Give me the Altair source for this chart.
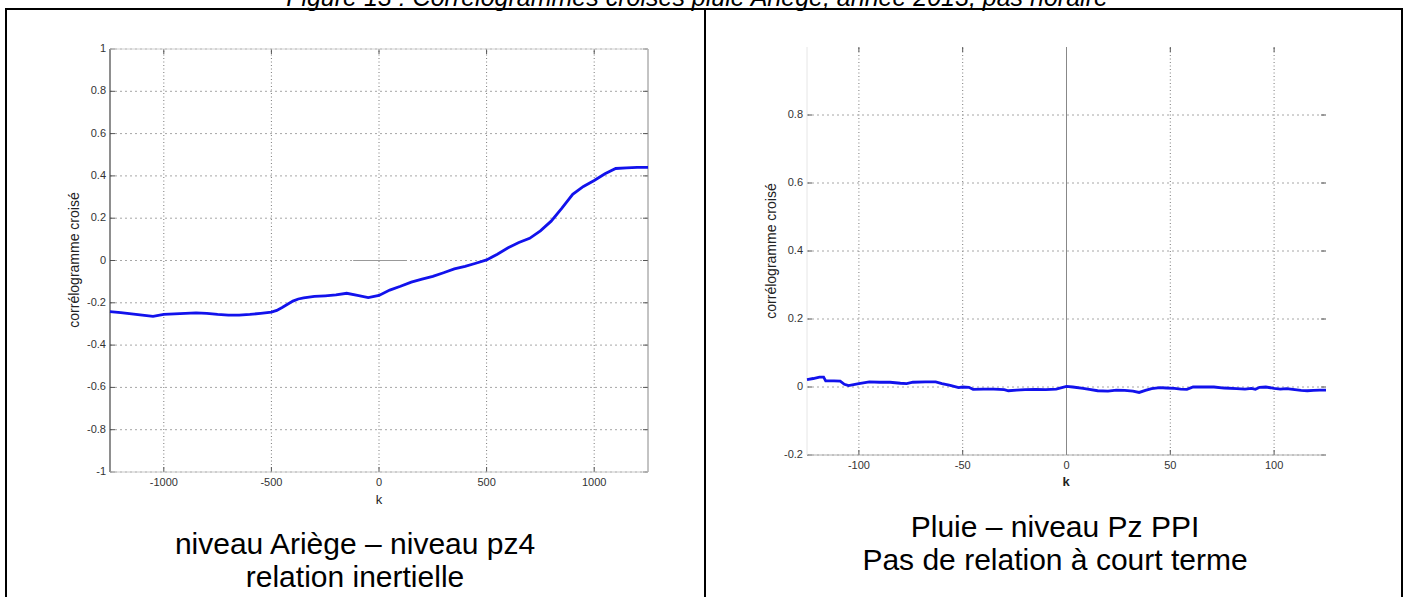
import altair as alt
import pandas as pd

W, H = 1407, 597
FONT = "Liberation Sans, Arial, sans-serif"

# ---------------- data ----------------
left_k = [-1250, -1200, -1150, -1100, -1050, -1000, -950, -900, -850, -800, -750, -700,
          -650, -600, -550, -500, -475, -450, -425, -400, -375, -350, -300, -250, -200,
          -150, -100, -50, 0, 50, 100, 150, 200, 250, 300, 350, 400, 450, 500, 550, 600,
          650, 700, 750, 800, 850, 900, 950, 1000, 1050, 1100, 1150, 1200, 1250]
left_r = [-0.242, -0.246, -0.252, -0.258, -0.264, -0.255, -0.252, -0.250, -0.248, -0.250,
          -0.255, -0.258, -0.258, -0.255, -0.250, -0.244, -0.236, -0.222, -0.207, -0.192,
          -0.182, -0.177, -0.170, -0.167, -0.163, -0.155, -0.165, -0.175, -0.165, -0.140,
          -0.122, -0.102, -0.088, -0.075, -0.058, -0.040, -0.028, -0.013, 0.003, 0.030,
          0.060, 0.085, 0.105, 0.140, 0.186, 0.248, 0.313, 0.350, 0.378, 0.410, 0.435,
          0.438, 0.440, 0.440]

right_k = [-125, -122, -119, -117, -116, -112, -109, -107, -105, -100, -95, -90, -85, -80,
           -77, -74, -68, -63, -60, -56, -52, -50, -47, -45, -40, -35, -30, -28, -24, -20,
           -15, -10, -5, 0, 3, 8, 11, 15, 20, 24, 28, 32, 35, 38, 41, 45, 48, 52, 55, 58,
           61, 65, 71, 76, 82, 86, 89, 91, 93, 96, 100, 103, 106, 110, 113, 116, 119, 122, 125]
right_r = [0.022, 0.025, 0.029, 0.029, 0.018, 0.018, 0.017, 0.008, 0.004, 0.010, 0.015,
           0.014, 0.014, 0.011, 0.010, 0.014, 0.015, 0.015, 0.010, 0.005, -0.002, 0.000,
           -0.001, -0.007, -0.006, -0.006, -0.008, -0.011, -0.009, -0.008, -0.007, -0.008,
           -0.006, 0.002, 0.000, -0.004, -0.007, -0.011, -0.012, -0.009, -0.010, -0.012,
           -0.016, -0.010, -0.005, -0.002, -0.003, -0.004, -0.006, -0.007, 0.000, 0.000,
           0.000, -0.003, -0.005, -0.006, -0.004, -0.007, -0.001, 0.000, -0.004, -0.006,
           -0.005, -0.008, -0.010, -0.011, -0.010, -0.009, -0.009]

left_xticks = [-1000, -500, 0, 500, 1000]
left_yticks = [-1, -0.8, -0.6, -0.4, -0.2, 0, 0.2, 0.4, 0.6, 0.8, 1]
right_xticks = [-100, -50, 0, 50, 100]
right_yticks = [-0.2, 0, 0.2, 0.4, 0.6, 0.8]
left_xdomain = [-1250, 1250]
left_ydomain = [-1, 1]
right_xdomain = [-125, 125]
right_ydomain = [-0.2, 1.0]

title_text = "Figure 13 : Corrélogrammes croisés pluie Ariège, année 2013, pas horaire"
left_caption = ["niveau Ariège – niveau pz4", "relation inertielle"]
right_caption = ["Pluie – niveau Pz PPI", "Pas de relation à court terme"]
y_title = "corrélogramme croisé"
x_title = "k"

LINE_COLOR = "#1212ec"
VGRID_COLOR = "#7a7a7a"
HGRID_COLOR = "#a6a6a6"
TICK_COLOR = "#555555"
LABEL_COLOR = "#333333"


def seg(xs, ys, x0, x1, y0, y1, color, width=1.0):
    df = pd.DataFrame({"x0": [x0], "x1": [x1], "y0": [y0], "y1": [y1]})
    return alt.Chart(df).mark_rule(color=color, strokeWidth=width).encode(
        x=alt.X("x0:Q", scale=xs, axis=None), x2="x1:Q",
        y=alt.Y("y0:Q", scale=ys, axis=None), y2="y1:Q")


def panel(k, r, xt, yt, xdom, ydom, xrange, yrange, box, titles):
    xs = alt.Scale(domain=xdom, range=xrange, nice=False, zero=False)
    ys = alt.Scale(domain=ydom, range=yrange, nice=False, zero=False)
    vgrid = pd.DataFrame({"k": xt, "y0": [ydom[0]] * len(xt), "y1": [ydom[1]] * len(xt),
                          "lab": [str(v) for v in xt]})
    hgrid = pd.DataFrame({"y": yt, "x0": [xdom[0]] * len(yt), "x1": [xdom[1]] * len(yt),
                          "lab": [str(v) for v in yt]})
    X = lambda f: alt.X(f, scale=xs, axis=None)
    Y = lambda f: alt.Y(f, scale=ys, axis=None)
    layers = []
    # dotted grid
    layers.append(alt.Chart(vgrid).mark_rule(color=VGRID_COLOR, strokeDash=[1, 2.5], strokeWidth=1).encode(
        x=X("k:Q"), y=Y("y0:Q"), y2="y1:Q"))
    layers.append(alt.Chart(hgrid).mark_rule(color=HGRID_COLOR, strokeDash=[2, 3], strokeWidth=1).encode(
        y=Y("y:Q"), x=X("x0:Q"), x2="x1:Q"))
    # inward ticks on the four sides
    layers.append(alt.Chart(vgrid).mark_rule(color=TICK_COLOR, y2Offset=-5).encode(
        x=X("k:Q"), y=Y("y0:Q"), y2="y0:Q"))
    layers.append(alt.Chart(vgrid).mark_rule(color=TICK_COLOR, y2Offset=5).encode(
        x=X("k:Q"), y=Y("y1:Q"), y2="y1:Q"))
    layers.append(alt.Chart(hgrid).mark_rule(color=TICK_COLOR, x2Offset=5).encode(
        y=Y("y:Q"), x=X("x0:Q"), x2="x0:Q"))
    layers.append(alt.Chart(hgrid).mark_rule(color=TICK_COLOR, x2Offset=-5).encode(
        y=Y("y:Q"), x=X("x1:Q"), x2="x1:Q"))
    # box / extra lines
    for (x0, x1, y0, y1, c, w) in box:
        layers.append(seg(xs, ys, x0, x1, y0, y1, c, w))
    # tick labels
    layers.append(alt.Chart(vgrid).mark_text(font=FONT, fontSize=11, color=LABEL_COLOR,
                                             align="center", baseline="middle", dy=11).encode(
        x=X("k:Q"), y=Y("y0:Q"), text="lab:N"))
    layers.append(alt.Chart(hgrid).mark_text(font=FONT, fontSize=11, color=LABEL_COLOR,
                                             align="right", baseline="middle", dx=-4).encode(
        y=Y("y:Q"), x=X("x0:Q"), text="lab:N"))
    # axis titles
    (kx, ky, kw), (tx, ty) = titles
    tdf = pd.DataFrame({"t": [x_title]})
    layers.append(alt.Chart(tdf).mark_text(font=FONT, fontSize=13, fontWeight=kw, color="#222222",
                                           align="center", baseline="middle").encode(
        text="t:N", x=alt.value(kx), y=alt.value(ky)))
    ydf = pd.DataFrame({"t": [y_title]})
    layers.append(alt.Chart(ydf).mark_text(font=FONT, fontSize=14, color="#222222", angle=270,
                                           align="center", baseline="middle").encode(
        text="t:N", x=alt.value(tx), y=alt.value(ty)))
    # data line
    df = pd.DataFrame({"k": k, "r": r})
    layers.append(alt.Chart(df).mark_line(color=LINE_COLOR, strokeWidth=2.8).encode(
        x=X("k:Q"), y=Y("r:Q")))
    return alt.layer(*layers)


left_box = [
    (-1250, -1250, -1, 1, "#444444", 1.2),
    (1250, 1250, -1, 1, "#888888", 1.0),
    (-1250, 1250, 1, 1, "#d0d0d0", 1.0),
    (-1250, 1250, -1, -1, "#c8c8c8", 1.0),
    (-120, 130, 0, 0, "#999999", 1.0),
]
right_box = [
    (-125, 125, -0.2, -0.2, "#b0b0b0", 1.0),
    (0, 0, -0.2, 1.0, "#888888", 1.0),
    (-125, -125, -0.2, 1.0, "#e6e6e6", 1.0),
]

left = panel(left_k, left_r, left_xticks, left_yticks, left_xdomain, left_ydomain,
             [110, 648], [472, 49], left_box, ((379, 500, "normal"), (75, 260)))
right = panel(right_k, right_r, right_xticks, right_yticks, right_xdomain, right_ydomain,
              [807, 1326], [455, 47], right_box, ((1066, 482, "bold"), (772, 251)))

# ---------------- decorations (page frame, title, captions) ----------------
one = pd.DataFrame({"a": [0]})
deco = []
deco.append(alt.Chart(one).mark_rule(color="black", strokeWidth=2).encode(
    x=alt.value(5), x2=alt.value(1403), y=alt.value(9)))
for xv in (6, 705, 1402):
    deco.append(alt.Chart(one).mark_rule(color="black", strokeWidth=2).encode(
        x=alt.value(xv), y=alt.value(9), y2=alt.value(H)))
deco.append(alt.Chart(pd.DataFrame({"t": [title_text]})).mark_text(
    font=FONT, fontSize=25, fontStyle="italic", align="center", baseline="alphabetic",
    color="black").encode(text="t:N", x=alt.value(697), y=alt.value(6)))
for i, t in enumerate(left_caption):
    deco.append(alt.Chart(pd.DataFrame({"t": [t]})).mark_text(
        font=FONT, fontSize=30, align="center", baseline="middle", color="black").encode(
        text="t:N", x=alt.value(355), y=alt.value(545 + 33 * i)))
for i, t in enumerate(right_caption):
    deco.append(alt.Chart(pd.DataFrame({"t": [t]})).mark_text(
        font=FONT, fontSize=30, align="center", baseline="middle", color="black").encode(
        text="t:N", x=alt.value(1055), y=alt.value(528 + 33 * i)))

chart = alt.layer(left, right, *deco).resolve_scale(
    x="independent", y="independent").properties(
    width=W, height=H, padding=0, autosize=alt.AutoSizeParams(type="none"),
    background="white").configure_view(stroke=None)

chart.save("out.html", embed_options={"renderer": "svg", "actions": False})
